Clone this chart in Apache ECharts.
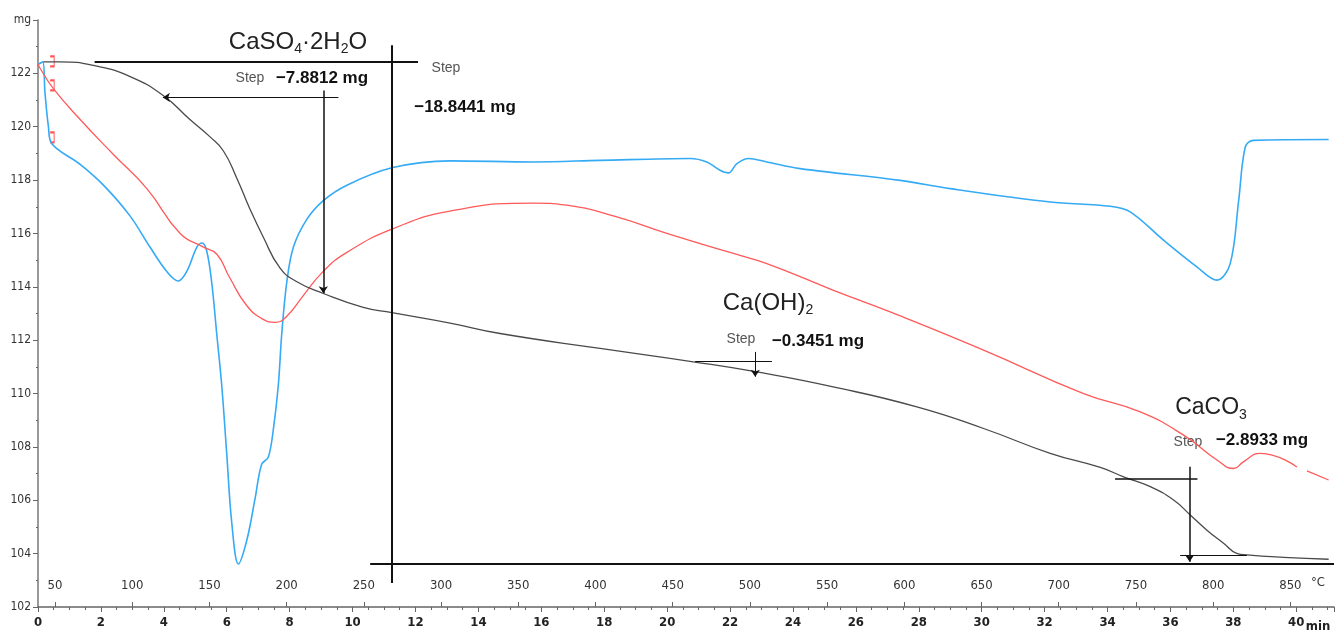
<!DOCTYPE html>
<html>
<head>
<meta charset="utf-8">
<script src="https://cdn.jsdelivr.net/npm/echarts@6/dist/echarts.min.js"></script>
<style>
  html, body { margin: 0; padding: 0; background: #fff; }
  #chart { width: 1339px; height: 639px; }
</style>
</head>
<body>
<div id="chart"></div>
<script>
// time axis (min) and mass (mg)
const tgTime = [0.17, 0.70, 1.87, 2.93, 3.98, 4.83, 5.47, 5.89, 6.32, 6.74, 7.16, 7.69, 8.23, 9.07, 10.34, 11.25, 13.10, 14.69, 17.87, 20.83, 22.85, 25.28, 27.94, 30.06, 32.18, 33.77, 34.51, 35.36, 36.10, 36.63, 37.16, 37.69, 38.11, 38.43, 39.60, 41.03];
const tgMass = [122.43, 122.43, 122.27, 121.88, 121.17, 120.27, 119.62, 119.10, 118.07, 116.91, 115.87, 114.71, 114.19, 113.75, 113.23, 113.03, 112.64, 112.25, 111.69, 111.19, 110.81, 110.25, 109.50, 108.69, 107.76, 107.23, 106.88, 106.51, 106.01, 105.45, 104.88, 104.39, 104.01, 103.95, 103.86, 103.79];

const redTime = [0.0, 0.06, 0.49, 1.34, 2.39, 3.46, 4.52, 5.26, 5.68, 6.10, 6.64, 7.16, 7.54, 7.91, 8.44, 9.07, 9.82, 11.25, 13.10, 15.75, 16.81, 18.40, 19.99, 22.11, 23.17, 25.29, 27.09, 30.06, 33.24, 35.04, 36.42, 37.48, 38.01, 38.32, 38.86, 40.02, 40.2, 40.34, 41.03];
const redValue = [122.35, 122.20, 121.43, 120.27, 118.97, 117.68, 116.00, 115.49, 115.23, 114.33, 113.29, 112.78, 112.67, 112.90, 113.68, 114.58, 115.29, 116.16, 116.84, 117.14, 117.06, 116.62, 116.00, 115.25, 114.87, 113.87, 113.06, 111.63, 110.00, 109.31, 108.44, 107.51, 107.19, 107.44, 107.76, 107.25, null, 107.10, 106.76];

const blueTime = [0.0, 0.15, 0.22, 0.33, 0.44, 1.34, 2.08, 2.93, 3.56, 4.09, 4.46, 4.73, 5.05, 5.21, 5.36, 5.52, 5.68, 5.84, 6.00, 6.16, 6.37, 6.64, 6.90, 7.11, 7.32, 7.48, 7.64, 7.75, 7.91, 8.12, 8.54, 9.07, 9.82, 11.25, 13.10, 15.75, 17.87, 20.73, 21.26, 21.68, 21.95, 22.22, 22.59, 23.17, 24.23, 27.41, 29.0, 32.18, 34.09, 34.72, 35.78, 36.84, 37.48, 37.90, 38.17, 38.38, 38.64, 41.03];
const blueValue = [122.33, 122.43, 121.30, 120.01, 119.36, 118.59, 117.81, 116.65, 115.49, 114.58, 114.22, 114.58, 115.49, 115.64, 115.36, 114.19, 112.26, 110.32, 107.74, 105.15, 103.61, 104.51, 106.06, 107.35, 107.61, 108.64, 110.32, 112.26, 114.19, 115.49, 116.52, 117.23, 117.81, 118.46, 118.72, 118.68, 118.74, 118.81, 118.68, 118.37, 118.27, 118.62, 118.81, 118.68, 118.43, 117.99, 117.68, 117.18, 117.02, 116.81, 115.75, 114.75, 114.25, 114.87, 117.24, 119.24, 119.49, 119.52];

// small red range brackets at the start
const bracketTime = [0.45, 0.45, 0.45];
const bracketMass = [122.45, 121.55, 119.6];

// temperature scale above the time axis
const tempTicks = [50, 100, 150, 200, 250, 300, 350, 400, 450, 500, 550, 600, 650, 700, 750, 800, 850];
const tempAtStart = 39;     // °C at 0 min
const heatingRate = 20.37;  // °C per min
const timeMax = 41.2;

// step evaluation construction lines: [t1, m1, t2, m2, arrow at end, width]
const stepLines = [
  [1.8, 122.43, 12.08, 122.43, false, 2],
  [11.25, 123.05, 11.25, 102.9, false, 2],
  [10.56, 103.61, timeMax, 103.61, false, 2],
  [9.55, 121.1, 3.97, 121.1, true, 1],
  [9.07, 121.36, 9.07, 113.76, true, 1.5],
  [20.89, 111.21, 23.33, 111.21, false, 1],
  [22.80, 111.56, 22.80, 110.63, true, 1],
  [34.24, 106.82, 36.86, 106.82, false, 1.5],
  [36.61, 107.26, 36.61, 103.70, true, 1.5],
  [36.31, 103.95, 38.43, 103.95, false, 1]
];

const zip = (xs, ys) => xs.map((x, i) => [x, ys[i]]);

const tickFont = "'DejaVu Sans Condensed', 'DejaVu Sans', sans-serif";
const textFont = "'Liberation Sans', Arial, sans-serif";

const chart = echarts.init(document.getElementById('chart'), null, { renderer: 'canvas' });

const option = {
  backgroundColor: '#fff',
  animation: false,
  grid: { left: 38, right: 5, top: 20, bottom: 32, containLabel: false },
  xAxis: [
    {
      type: 'value',
      min: 0,
      max: timeMax,
      interval: 2,
      axisLine: { lineStyle: { color: '#666', width: 1.5 } },
      axisTick: { length: 5, lineStyle: { color: '#666' } },
      minorTick: { show: true, splitNumber: 4, length: 3, lineStyle: { color: '#666' } },
      splitLine: { show: false },
      axisLabel: {
        color: '#222', fontFamily: tickFont, fontSize: 13, fontWeight: 'bold',
        margin: 9, showMaxLabel: false
      }
    },
    {
      type: 'value',
      min: tempAtStart,
      max: tempAtStart + timeMax * heatingRate,
      position: 'bottom',
      axisLine: { show: false },
      axisTick: { show: true, inside: true, length: 5, customValues: tempTicks, lineStyle: { color: '#666' } },
      splitLine: { show: false },
      axisLabel: {
        inside: true, customValues: tempTicks, margin: 15,
        color: '#333', fontFamily: tickFont, fontSize: 13
      }
    }
  ],
  yAxis: {
    type: 'value',
    min: 102,
    max: 124,
    interval: 2,
    axisLine: { show: true, lineStyle: { color: '#777', width: 1.5 } },
    axisTick: { show: true, length: 5, lineStyle: { color: '#666' } },
    minorTick: { show: true, splitNumber: 2, length: 2, lineStyle: { color: '#666' } },
    splitLine: { show: false },
    axisLabel: {
      formatter: (v) => (v === 124 ? 'mg' : v),
      color: '#333', fontFamily: tickFont, fontSize: 12, margin: 7
    }
  },
  series: [
    {
      name: 'blue', type: 'line', data: zip(blueTime, blueValue),
      showSymbol: false, smooth: 0.35,
      lineStyle: { color: '#35aaf5', width: 1.6 }
    },
    {
      name: 'red', type: 'line', data: zip(redTime, redValue),
      showSymbol: false, smooth: 0.5, connectNulls: false,
      lineStyle: { color: '#ff5a5a', width: 1.3 }
    },
    {
      name: 'TG', type: 'line', data: zip(tgTime, tgMass),
      showSymbol: false, smooth: 0.5,
      lineStyle: { color: '#4a4a4a', width: 1.3 },
      markLine: {
        silent: true,
        symbol: ['none', 'none'],
        label: { show: false },
        lineStyle: { color: '#111', type: 'solid' },
        data: stepLines.map((s) => [
          { coord: [s[0], s[1]], symbol: 'none', lineStyle: { width: s[5], color: '#111', type: 'solid' } },
          { coord: [s[2], s[3]], symbol: s[4] ? 'arrow' : 'none', symbolSize: 7 }
        ])
      }
    },
    {
      name: 'brackets', type: 'scatter', data: zip(bracketTime, bracketMass),
      symbol: 'path://M0,0 L4,0 L4,12 L0,12', symbolSize: [4, 10],
      itemStyle: { color: 'none', borderColor: '#ff2a2a', borderWidth: 1.5 }
    }
  ],
  graphic: [
    { type: 'text', x: 298, y: 42, style: {
      text: '{n|CaSO}{s|4}{n|·2H}{s|2}{n|O}', align: 'center', verticalAlign: 'middle',
      rich: { n: { fontSize: 24, fontFamily: textFont, fill: '#222' },
              s: { fontSize: 14, fontFamily: textFont, fill: '#222', padding: [14, 0, 0, 0] } } } },
    { type: 'text', x: 250, y: 78, style: { text: 'Step', font: '14px ' + textFont, fill: '#555', align: 'center', verticalAlign: 'middle' } },
    { type: 'text', x: 322, y: 78, style: { text: '−7.8812 mg', font: 'bold 17px ' + textFont, fill: '#111', align: 'center', verticalAlign: 'middle' } },
    { type: 'text', x: 446, y: 68, style: { text: 'Step', font: '14px ' + textFont, fill: '#555', align: 'center', verticalAlign: 'middle' } },
    { type: 'text', x: 465, y: 107, style: { text: '−18.8441 mg', font: 'bold 17px ' + textFont, fill: '#111', align: 'center', verticalAlign: 'middle' } },
    { type: 'text', x: 768, y: 303, style: {
      text: '{n|Ca(OH)}{s|2}', align: 'center', verticalAlign: 'middle',
      rich: { n: { fontSize: 24, fontFamily: textFont, fill: '#222' },
              s: { fontSize: 14, fontFamily: textFont, fill: '#222', padding: [14, 0, 0, 0] } } } },
    { type: 'text', x: 741, y: 339, style: { text: 'Step', font: '14px ' + textFont, fill: '#555', align: 'center', verticalAlign: 'middle' } },
    { type: 'text', x: 818, y: 341, style: { text: '−0.3451 mg', font: 'bold 17px ' + textFont, fill: '#111', align: 'center', verticalAlign: 'middle' } },
    { type: 'text', x: 1211, y: 408, style: {
      text: '{n|CaCO}{s|3}', align: 'center', verticalAlign: 'middle',
      rich: { n: { fontSize: 23, fontFamily: textFont, fill: '#222' },
              s: { fontSize: 14, fontFamily: textFont, fill: '#222', padding: [14, 0, 0, 0] } } } },
    { type: 'text', x: 1188, y: 442, style: { text: 'Step', font: '14px ' + textFont, fill: '#555', align: 'center', verticalAlign: 'middle' } },
    { type: 'text', x: 1262, y: 440, style: { text: '−2.8933 mg', font: 'bold 17px ' + textFont, fill: '#111', align: 'center', verticalAlign: 'middle' } },
    { type: 'text', x: 1318, y: 627, style: { text: 'min', font: 'bold 13px ' + tickFont, fill: '#222', align: 'center', verticalAlign: 'middle' } },
    { type: 'text', x: 1318, y: 583, style: { text: '°C', font: '13px ' + tickFont, fill: '#333', align: 'center', verticalAlign: 'middle' } }
  ]
};

chart.setOption(option);
window.addEventListener('resize', () => chart.resize());
</script>
</body>
</html>
